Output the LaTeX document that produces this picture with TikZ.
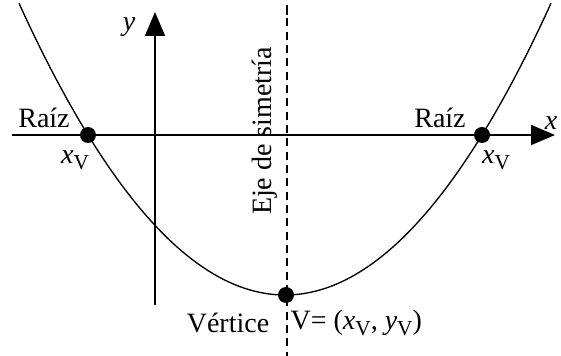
\documentclass[tikz,border=0pt]{standalone}
\usepackage{fontspec}
\setmainfont{Liberation Serif}
\usetikzlibrary{arrows.meta,positioning,calc}
\tikzset{
  axisln/.style={-{Triangle[length=18pt,width=15pt]}, line width=1.3pt},
  curveln/.style={line width=1pt, line join=round},
  symln/.style={dash pattern=on 6pt off 4pt, line width=1.2pt},
  rootdot/.style={circle, fill=black, inner sep=0pt, minimum size=12pt},
  lbl/.style={font=\fontsize{21}{23}\selectfont, inner sep=1pt},
}
\newcommand{\xsubv}{\textit{x}\raisebox{-0.2em}{\fontsize{16}{18}\selectfont V}}
\newcommand{\ysubv}{\textit{y}\raisebox{-0.2em}{\fontsize{16}{18}\selectfont V}}
\begin{document}
\begin{tikzpicture}[x=0.75pt, y=-0.75pt]
  \useasboundingbox (0,0) rectangle (561,356);
  % axes
  \coordinate (xs) at (12,135);
  \coordinate (xe) at (555,135);
  \coordinate (ys) at (155,305);
  \coordinate (ye) at (155,12);
  \draw[axisln] (xs) -- (xe);
  \draw[axisln] (ys) -- (ye);
  \node[lbl, font=\fontsize{21}{23}\selectfont\itshape] (xlab) at (551,123) {x};
  \node[lbl, font=\fontsize{21}{23}\selectfont\itshape] (ylab) at (129,27) {y};
  % axis of symmetry
  \coordinate (st) at (287,5);
  \coordinate (sb) at (287,356);
  \draw[symln] (st) -- (sb);
  \draw[line width=2pt] (287,5) -- (287,15);
  \node[lbl, rotate=90] (eje) at (265,131) {Eje de simetría};
  % parabola
  \draw[curveln] plot[domain=19:551, samples=80, smooth] (\x, {295-160*((\x-285)/197)^2});
  % roots and vertex
  \node[rootdot] (r1) at (88,135) {};
  \node[rootdot] (r2) at (482,135) {};
  \node[rootdot] (v) at (286,295) {};
  \node[lbl] (raiz1) at (44,118) {Raíz};
  \node[lbl] (raiz2) at (440,118) {Raíz};
  \node[lbl] (xv1) at (75,160) {\xsubv};
  \node[lbl] (xv2) at (496,160) {\xsubv};
  \node[lbl] (vert) at (228,323) {Vértice};
  \node[lbl, anchor=west] (vcoord) at (289,323) {V= (\xsubv, \ysubv)};
\end{tikzpicture}
\end{document}
